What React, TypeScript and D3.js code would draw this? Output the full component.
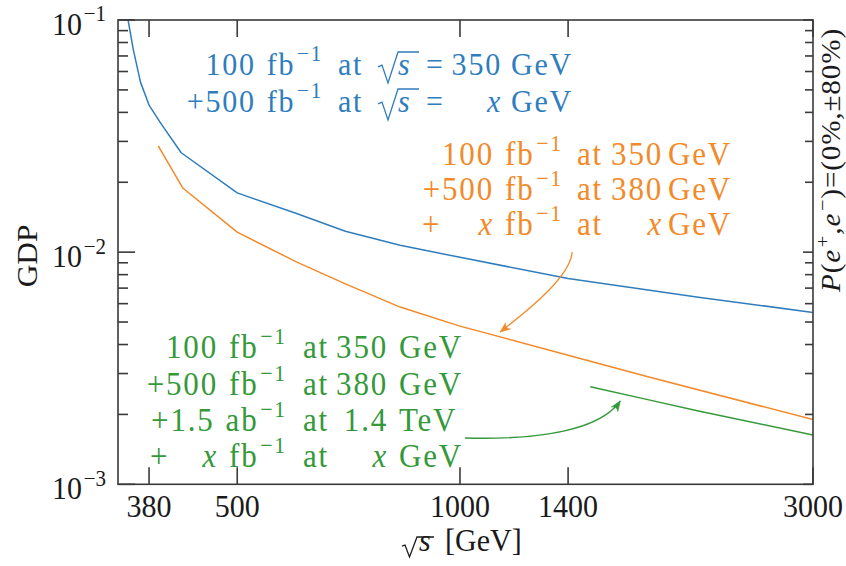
import React from 'react';
import * as d3 from 'd3';

const W = 846;
const H = 566;
const FONT = '"Liberation Serif", "Times New Roman", serif';
const SY = 1.08; // glyphs are drawn slightly taller than wide

// sqrt(s) [GeV] and GDP for each run scenario
const blueEnergy = [356, 362, 370, 380, 395, 420, 500, 600, 700, 830, 1000, 1400, 2100, 3000];
const blueGdp = [0.1, 0.074, 0.054, 0.043, 0.0355, 0.0268, 0.018, 0.0147, 0.0123, 0.0107, 0.0095, 0.0077, 0.0064, 0.0055];
const orangeEnergy = [391, 422, 500, 600, 700, 830, 1000, 1400, 1800, 3000];
const orangeGdp = [0.0287, 0.0189, 0.0122, 0.0091, 0.0073, 0.0058, 0.0048, 0.0036, 0.0029, 0.0019];
const greenEnergy = [1500, 1800, 2100, 3000];
const greenGdp = [0.00263, 0.00231, 0.00207, 0.00163];

const xTicks = [380, 500, 1000, 1400, 3000];
const yMajor = [1e-3, 1e-2, 1e-1];
const yTickLabels = ['10^{−3}', '10^{−2}', '10^{−1}'];

// annotation texts (columns: prefix, amount, "at", energy, unit)
const blueNote = [
  ['', '100 fb^{−1}', 'at', '√s', '=', '350', 'GeV'],
  ['', '+500 fb^{−1}', 'at', '√s', '=', '$x$', 'GeV'],
];
const orangeNote = [
  ['', '100 fb^{−1}', 'at', '350', 'GeV'],
  ['', '+500 fb^{−1}', 'at', '380', 'GeV'],
  ['+', '$x$ fb^{−1}', 'at', '$x$', 'GeV'],
];
const greenNote = [
  ['', '100 fb^{−1}', 'at', '350', 'GeV'],
  ['', '+500 fb^{−1}', 'at', '380', 'GeV'],
  ['', '+1.5 ab^{−1}', 'at', '1.4', 'TeV'],
  ['+', '$x$ fb^{−1}', 'at', '$x$', 'GeV'],
];

// arrows as cubic curves in data space: start, control 1, control 2, tip
const orangeArrow: [number, number][] = [[1418, 0.01], [1409, 0.00797], [1264, 0.005922], [1133, 0.004529]];
const greenArrow: [number, number][] = [[1016, 0.001583], [1284, 0.001552], [1547, 0.001713], [1647, 0.002285]];

const BLUE = '#2f7dbd';
const ORANGE = '#f28a2a';
const GREEN = '#35993a';
const AXIS = '#3a3a3a';
const INK = '#1a1a1a';

type Anchor = 'start' | 'end' | 'middle';

function rich(str: string, fs: number) {
  const parts = str.split(/(\^\{[^}]*\}|\$[^$]*\$)/).filter((p) => p !== '');
  const out: React.ReactNode[] = [];
  let shifted = 0;
  parts.forEach((p, i) => {
    if (p.startsWith('^{')) {
      const up = -fs * 0.42;
      out.push(
        <tspan key={i} dy={up - shifted} dx={fs * 0.06} fontSize={fs * 0.7}>
          {p.slice(2, -1)}
        </tspan>
      );
      shifted = up;
      return;
    }
    const reset = -shifted;
    shifted = 0;
    out.push(
      <tspan key={i} dy={reset} fontStyle={p.startsWith('$') ? 'italic' : undefined}>
        {p.startsWith('$') ? p.slice(1, -1) : p}
      </tspan>
    );
  });
  return out;
}

function Txt({
  x,
  y,
  s,
  fs,
  anchor = 'start',
  fill = INK,
  rotate = 0,
  ls = 0,
  ws = 0.1,
}: {
  x: number;
  y: number;
  s: string;
  fs: number;
  anchor?: Anchor;
  fill?: string;
  rotate?: number;
  ls?: number;
  ws?: number;
}) {
  return (
    <text
      transform={`translate(${x},${y}) scale(1,${SY})${rotate ? ` rotate(${rotate})` : ''}`}
      textAnchor={anchor}
      fontSize={fs}
      fontFamily={FONT}
      fill={fill}
      letterSpacing={ls}
      wordSpacing={fs * ws}
      style={{ whiteSpace: 'pre' }}
    >
      {rich(s, fs)}
    </text>
  );
}

// radical sign drawn as a stroke, followed by an italic s
function SqrtS({ x, b, up, down, sw, bar, fs, color, sx = 0 }: { x: number; b: number; up: number; down: number; sw: number; bar: number; fs: number; color: string; sx?: number }) {
  const pts: [number, number][] = [
    [x, b - 0.35 * up],
    [x + 0.2 * sw, b - 0.43 * up],
    [x + 0.5 * sw, b + down],
    [x + sw, b - up],
    [x + sw + bar, b - up],
  ];
  return (
    <g>
      <path d={d3.line()(pts) || ''} fill="none" stroke={color} strokeWidth={1.3} strokeLinejoin="miter" />
      <Txt x={x + sw + sx} y={b} s="$s$" fs={fs} fill={color} />
    </g>
  );
}

function Note({ rows, cols, baselines, fs, color }: { rows: string[][]; cols: { x: number; a: Anchor }[]; baselines: number[]; fs: number; color: string }) {
  return (
    <g>
      {rows.map((row, r) =>
        row.map((cell, c) => {
          if (!cell) return null;
          if (cell === '√s') {
            return <SqrtS key={`${r}-${c}`} x={cols[c].x} b={baselines[r]} up={23} down={8} sw={20} bar={21} fs={fs} color={color} />;
          }
          return (
            <Txt key={`${r}-${c}`} x={cols[c].x} y={baselines[r]} s={cell} fs={fs} anchor={cols[c].a} fill={color} ls={1.8} ws={0.05} />
          );
        })
      )}
    </g>
  );
}

function Arrow({ pts, color, x, y }: { pts: [number, number][]; color: string; x: (v: number) => number; y: (v: number) => number }) {
  const p = pts.map(([a, b]) => [x(a), y(b)]);
  const path = d3.path();
  path.moveTo(p[0][0], p[0][1]);
  path.bezierCurveTo(p[1][0], p[1][1], p[2][0], p[2][1], p[3][0], p[3][1]);
  const [tx, ty] = p[3];
  let ux = tx - p[2][0];
  let uy = ty - p[2][1];
  const n = Math.hypot(ux, uy);
  ux /= n;
  uy /= n;
  const L = 10;
  const w = 4;
  const bx = tx - ux * L;
  const by = ty - uy * L;
  const nx = -uy;
  const ny = ux;
  const head = `M${tx},${ty} L${bx + nx * w},${by + ny * w} Q${tx - ux * L * 0.6},${ty - uy * L * 0.6} ${bx - nx * w},${by - ny * w} Z`;
  return (
    <g>
      <path d={path.toString()} fill="none" stroke={color} strokeWidth={1.3} />
      <path d={head} fill={color} stroke={color} strokeWidth={0.6} strokeLinejoin="round" />
    </g>
  );
}

export default function App() {
  const left = 118;
  const right = 813;
  const top = 20;
  const bottom = 484.3;
  const x = d3.scaleLog().domain([345, 3000]).range([left, right]);
  const y = d3.scaleLog().domain([1e-3, 1e-1]).range([bottom, top]);
  const line = d3
    .line<[number, number]>()
    .x((d) => x(d[0]))
    .y((d) => y(d[1]));

  const series = [
    { e: blueEnergy, v: blueGdp, c: BLUE },
    { e: orangeEnergy, v: orangeGdp, c: ORANGE },
    { e: greenEnergy, v: greenGdp, c: GREEN },
  ];

  const minorY: number[] = [];
  for (const dec of [1e-3, 1e-2]) for (let k = 2; k <= 9; k++) minorY.push(k * dec);

  return (
    <svg width={W} height={H} style={{ position: 'absolute', left: 0, top: 0, display: 'block', background: '#fff' }}>
      <defs>
        <clipPath id="plot">
          <rect x={left} y={top} width={right - left} height={bottom - top} />
        </clipPath>
      </defs>

      {/* curves */}
      <g clipPath="url(#plot)">
        {series.map((s, i) => (
          <path
            key={i}
            d={line(s.e.map((e, j) => [e, s.v[j]] as [number, number])) || ''}
            fill="none"
            stroke={s.c}
            strokeWidth={1.5}
            strokeLinejoin="round"
          />
        ))}
      </g>

      {/* frame and ticks */}
      <g stroke={AXIS} strokeWidth={1.6}>
        <rect x={left} y={top} width={right - left} height={bottom - top} fill="none" />
        {xTicks.map((t) => (
          <g key={t}>
            <line x1={x(t)} x2={x(t)} y1={bottom} y2={bottom - 17} />
            <line x1={x(t)} x2={x(t)} y1={top} y2={top + 17} />
          </g>
        ))}
        {yMajor.map((t) => (
          <g key={t}>
            <line x1={left} x2={left + 17} y1={y(t)} y2={y(t)} />
            <line x1={right} x2={right - 10} y1={y(t)} y2={y(t)} />
          </g>
        ))}
        {minorY.map((t) => (
          <g key={t}>
            <line x1={left} x2={left + 10} y1={y(t)} y2={y(t)} />
            <line x1={right} x2={right - 8} y1={y(t)} y2={y(t)} />
          </g>
        ))}
      </g>

      {/* tick labels */}
      {xTicks.map((t) => (
        <Txt key={t} x={x(t)} y={517} s={String(t)} fs={30} anchor="middle" />
      ))}
      {yMajor.map((t, i) => (
        <Txt key={t} x={106} y={y(t) + 15} s={yTickLabels[i]} fs={30} anchor="end" />
      ))}

      {/* axis titles */}
      <SqrtS x={402} b={551} up={14} down={6} sw={15} bar={17} fs={30} color={INK} sx={2} />
      <Txt x={445} y={551} s="[GeV]" fs={30} />
      <Txt x={37} y={256} s="GDP" fs={29} anchor="middle" rotate={-90} />
      <Txt x={840} y={160} s="$P$($e$^{+},$e$^{−})=(0%,±80%)" fs={27} anchor="middle" rotate={-90} ls={0.8} />

      {/* scenario labels */}
      <Note
        rows={blueNote}
        cols={[
          { x: 182, a: 'start' },
          { x: 323, a: 'end' },
          { x: 338, a: 'start' },
          { x: 378, a: 'start' },
          { x: 426, a: 'start' },
          { x: 502, a: 'end' },
          { x: 511, a: 'start' },
        ]}
        baselines={[75, 112]}
        fs={30}
        color={BLUE}
      />
      <Note
        rows={orangeNote}
        cols={[
          { x: 422, a: 'start' },
          { x: 563, a: 'end' },
          { x: 577, a: 'start' },
          { x: 663, a: 'end' },
          { x: 668, a: 'start' },
        ]}
        baselines={[165, 200, 235]}
        fs={31}
        color={ORANGE}
      />
      <Note
        rows={greenNote}
        cols={[
          { x: 150, a: 'start' },
          { x: 287, a: 'end' },
          { x: 303, a: 'start' },
          { x: 388, a: 'end' },
          { x: 399, a: 'start' },
        ]}
        baselines={[358, 395, 431, 467]}
        fs={31}
        color={GREEN}
      />

      <Arrow pts={orangeArrow} color={ORANGE} x={x} y={y} />
      <Arrow pts={greenArrow} color={GREEN} x={x} y={y} />
    </svg>
  );
}
